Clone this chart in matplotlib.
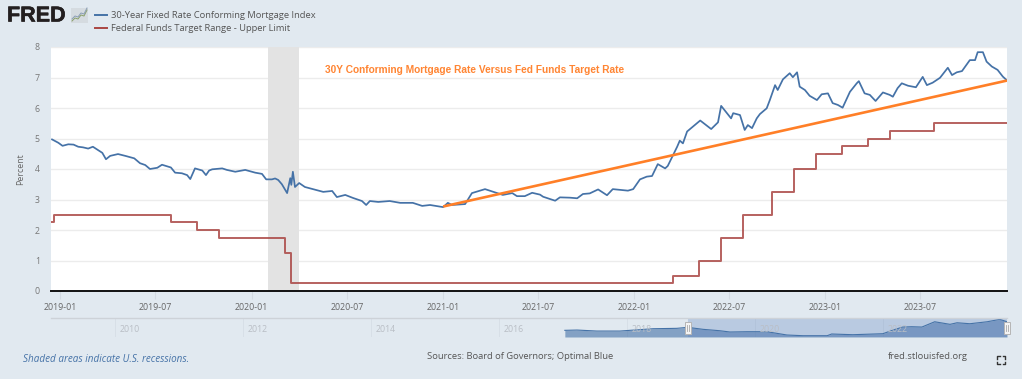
"""
FRED chart: 30Y conforming mortgage rate versus fed funds target rate.
"""

import matplotlib

matplotlib.use("Agg")

import matplotlib.dates as mdates
import matplotlib.patheffects as pe
import matplotlib.pyplot as plt
import pandas as pd
from matplotlib.patches import Rectangle

# days since 2019-01-01
MORTGAGE_DAYS = [
    -16, -4, 4, 15, 25, 34, 43, 53, 62, 72,
    80, 87, 95, 110, 124, 141, 152, 162, 171, 185,
    194, 211, 219, 232, 242, 248, 257, 271, 278, 284,
    290, 309, 318, 334, 353, 372, 385, 393, 404, 410,
    416, 423, 433, 439, 441, 444, 448, 456, 467, 482,
    502, 519, 528, 544, 559, 576, 584, 591, 607, 629,
    649, 673, 691, 706, 731, 740, 748, 773, 786, 811,
    834, 845, 863, 872, 887, 901, 916, 922, 945, 954,
    973, 987, 998, 1011, 1027, 1044, 1055, 1084, 1094, 1107,
    1120, 1130, 1141, 1155, 1160, 1178, 1183, 1189, 1197, 1208,
    1222, 1243, 1256, 1262, 1273, 1281, 1285, 1298, 1307, 1313,
    1321, 1330, 1336, 1349, 1355, 1365, 1370, 1380, 1393, 1399,
    1407, 1412, 1422, 1431, 1445, 1454, 1466, 1475, 1485, 1494,
    1508, 1521, 1525, 1536, 1546, 1557, 1571, 1584, 1590, 1599,
    1607, 1619, 1634, 1647, 1655, 1666, 1680, 1695, 1703, 1712,
    1722, 1737, 1747, 1752, 1762, 1769, 1779, 1790, 1800, 1807,
]
MORTGAGE_RATE = [
    4.97, 4.86, 4.76, 4.81, 4.80, 4.73, 4.71, 4.67, 4.73, 4.62,
    4.53, 4.32, 4.43, 4.49, 4.43, 4.35, 4.19, 4.13, 4.00, 4.04,
    4.14, 4.05, 3.88, 3.86, 3.80, 3.67, 4.02, 3.95, 3.80, 3.95,
    3.99, 4.02, 3.97, 3.91, 3.97, 3.88, 3.84, 3.66, 3.66, 3.69,
    3.64, 3.50, 3.21, 3.70, 3.48, 3.91, 3.41, 3.54, 3.41, 3.34,
    3.25, 3.28, 3.08, 3.15, 3.05, 2.95, 2.82, 2.95, 2.92, 2.95,
    2.89, 2.89, 2.79, 2.82, 2.75, 2.89, 2.82, 2.85, 3.21, 3.34,
    3.21, 3.15, 3.21, 3.11, 3.11, 3.22, 3.16, 3.09, 2.96, 3.07,
    3.06, 3.04, 3.18, 3.20, 3.33, 3.14, 3.34, 3.29, 3.34, 3.66,
    3.75, 3.77, 4.16, 4.02, 4.10, 4.73, 4.93, 4.84, 5.23, 5.39,
    5.59, 5.31, 5.53, 6.07, 5.83, 5.66, 5.83, 5.77, 5.28, 5.44,
    5.34, 5.66, 5.80, 5.99, 6.26, 6.75, 6.59, 6.94, 7.14, 7.01,
    7.17, 6.70, 6.59, 6.40, 6.26, 6.45, 6.48, 6.16, 6.10, 6.01,
    6.53, 6.81, 6.88, 6.48, 6.43, 6.23, 6.51, 6.43, 6.37, 6.65,
    6.81, 6.73, 6.68, 7.02, 6.75, 6.83, 6.99, 7.32, 7.08, 7.17,
    7.21, 7.57, 7.57, 7.83, 7.83, 7.52, 7.36, 7.25, 7.03, 6.92,
]

FED_DATES = [
    "2018-12-14", "2018-12-20", "2019-08-01", "2019-09-19", "2019-10-31",
    "2020-03-04", "2020-03-16", "2022-03-17", "2022-05-05", "2022-06-16",
    "2022-07-28", "2022-09-22", "2022-11-03", "2022-12-15", "2023-02-02",
    "2023-03-23", "2023-05-04", "2023-07-27", "2023-12-14",
]
FED_UPPER = [
    2.25, 2.50, 2.25, 2.00, 1.75, 1.25, 0.25, 0.50, 1.00, 1.75,
    2.50, 3.25, 4.00, 4.50, 4.75, 5.00, 5.25, 5.50, 5.50,
]

TREND_DATES = ["2021-01-01", "2023-12-14"]
TREND_RATE = [2.77, 6.90]

RECESSION = ["2020-02-01", "2020-04-01"]

NAV_YEARS = [
    2017.03, 2017.22, 2017.53, 2017.89, 2018.41, 2018.78, 2018.95, 2019.19, 2019.45, 2019.61,
    2019.88, 2020.19, 2020.50, 2020.75, 2021.13, 2021.20, 2021.53, 2022.00, 2022.16, 2022.31,
    2022.45, 2022.61, 2022.81, 2023.05, 2023.16, 2023.36, 2023.63, 2023.83, 2023.94,
]
NAV_RATE = [
    4.42, 4.51, 4.20, 4.20, 4.92, 5.04, 5.35, 4.73, 4.30, 3.90,
    3.99, 3.99, 2.97, 2.75, 2.75, 3.28, 3.06, 3.37, 4.51, 5.44,
    5.54, 5.44, 7.08, 6.28, 6.77, 6.47, 7.08, 7.83, 7.08,
]
NAV_TICKS = [2010, 2012, 2014, 2016, 2018, 2020, 2022]

W, H = 1022, 379
BG = "#e1e9f0"
BLUE = "#4572a7"
RED = "#aa4643"
ORANGE = "#ff7f27"

plt.rcParams["font.family"] = ["Open Sans", "DejaVu Sans"]


def px_axes(fig, left, top, right, bottom, **kwargs):
    return fig.add_axes(
        [left / W, 1 - bottom / H, (right - left) / W, (bottom - top) / H], **kwargs
    )


def draw_main(fig):
    ax = px_axes(fig, 51, 47, 1007, 291)
    ax.set_facecolor("white")
    dates = pd.Timestamp("2019-01-01") + pd.to_timedelta(MORTGAGE_DAYS, unit="D")
    ax.axvspan(pd.Timestamp(RECESSION[0]), pd.Timestamp(RECESSION[1]), color="#e3e3e3", lw=0, zorder=1.5)
    ax.plot(dates, MORTGAGE_RATE, color=BLUE, lw=1.25, zorder=3)
    ax.step(pd.to_datetime(FED_DATES), FED_UPPER, where="post", color=RED, lw=1.4, alpha=0.85, zorder=3)
    ax.plot(pd.to_datetime(TREND_DATES), TREND_RATE, color=ORANGE, lw=1.9, zorder=4, solid_capstyle="butt")
    ax.set_xlim(pd.Timestamp("2018-12-14"), pd.Timestamp("2023-12-14"))
    ax.set_ylim(0, 8)
    ax.set_yticks(range(0, 9))
    ax.yaxis.grid(True, color="#ececec", lw=1, zorder=1)
    ax.set_axisbelow(True)
    ax.xaxis.set_major_locator(mdates.MonthLocator(bymonth=(1, 7)))
    ax.xaxis.set_major_formatter(mdates.DateFormatter("%Y-%m"))
    ax.tick_params(axis="x", length=6, color="#d3dae2", labelcolor="#666666", labelsize=6.3, pad=2.5, width=0.8)
    ax.tick_params(axis="y", length=0, labelcolor="#777777", labelsize=6.3, pad=8)
    for side in ("top", "right", "left"):
        ax.spines[side].set_visible(False)
    ax.spines["bottom"].set_color("#111111")
    ax.spines["bottom"].set_linewidth(1.4)
    ax.set_ylabel("Percent", color="#666666", fontsize=6.3, labelpad=7)
    ax.text(
        0.443, 0.905, "30Y Conforming Mortgage Rate Versus Fed Funds Target Rate",
        transform=ax.transAxes, ha="center", va="center", color="#ff8533",
        fontsize=7.3, fontweight="bold", family=["Liberation Sans"], zorder=5,
    )
    return ax


def draw_navigator(fig):
    nav = px_axes(fig, 51, 318, 1007, 337)
    nav.patch.set_alpha(0)
    nav.set_xlim(2009, 2023.94)
    nav.set_ylim(2.35, 8.25)
    nav.fill_between(NAV_YEARS, NAV_RATE, 2.35, color="#4572a7", alpha=0.6, lw=0)
    nav.plot(NAV_YEARS, NAV_RATE, color=BLUE, lw=0.8)
    nav.axvspan(2018.95, 2023.94, color="#5f83bf", alpha=0.3, lw=0)
    nav.set_xticks(NAV_TICKS)
    nav.set_xticklabels([])
    nav.set_yticks([])
    nav.tick_params(axis="x", length=0)
    nav.xaxis.grid(True, color="#d6dee6", lw=0.6)
    nav.set_axisbelow(True)
    for side in ("left", "right", "bottom"):
        nav.spines[side].set_visible(False)
    nav.spines["top"].set_color("#cdd2d8")
    nav.spines["top"].set_linewidth(1)
    for year in NAV_TICKS:
        nav.annotate(
            str(year), (year, 0), xycoords=("data", "axes fraction"), xytext=(10.5, 5.5),
            textcoords="offset points", ha="center", va="center", color="#b9bec5", fontsize=6.3,
        )


def draw_overlay(fig):
    ov = fig.add_axes([0, 0, 1, 1])
    ov.set_xlim(0, W)
    ov.set_ylim(H, 0)
    ov.axis("off")
    ov.patch.set_alpha(0)

    # logo
    ov.text(7, 16, "FRED", ha="left", va="center", fontsize=15.5, fontweight="bold",
            family=["Liberation Sans"], color="#231f20",
            path_effects=[pe.withStroke(linewidth=0.4, foreground="#231f20")])
    ov.add_patch(Rectangle((71, 8), 17, 15, color="#d5dbe0", lw=0))
    ov.plot([72, 75, 78, 81, 84, 87], [21, 18, 19, 15, 16, 10], color="#8aa06a", lw=0.7)
    ov.plot([72, 75, 78, 81, 84, 87], [19, 16, 17, 13, 14, 8], color="#8a9db5", lw=0.7)

    # legend
    ov.plot([95, 107], [15, 15], color=BLUE, lw=1.4)
    ov.plot([95, 107], [28, 28], color=RED, lw=1.4)
    ov.text(111, 15.5, "30-Year Fixed Rate Conforming Mortgage Index", va="center", color="#555555", fontsize=6.72)
    ov.text(111, 28.5, "Federal Funds Target Range - Upper Limit", va="center", color="#555555", fontsize=6.72)

    # navigator handles
    for x in (688, 1007):
        ov.add_patch(Rectangle((x - 3, 322), 6, 12, facecolor="#f4f4f4", edgecolor="#b5b5b5", lw=0.7, zorder=5))
        ov.plot([x - 1, x - 1], [325, 331], color="#a8a8a8", lw=0.6, zorder=6)
        ov.plot([x + 1, x + 1], [325, 331], color="#a8a8a8", lw=0.6, zorder=6)

    # footer
    ov.text(23, 360, "Shaded areas indicate U.S. recessions.", va="center", color="#4572a7",
            fontsize=7.1, style="italic")
    ov.text(427, 356.5, "Sources: Board of Governors; Optimal Blue", va="center", color="#555555", fontsize=6.75)
    ov.text(888, 356.5, "fred.stlouisfed.org", va="center", color="#555555", fontsize=6.75)

    # fullscreen icon
    x0, x1, y0, y1 = 997, 1005, 356, 364
    for cx, cy, dx, dy in ((x0, y0, 1, 1), (x1, y0, -1, 1), (x0, y1, 1, -1), (x1, y1, -1, -1)):
        ov.plot([cx + 2.5 * dx, cx, cx], [cy, cy, cy + 2.5 * dy], color="#333333", lw=1)


def main():
    fig = plt.figure(figsize=(W / 100, H / 100), dpi=100, facecolor=BG)
    draw_main(fig)
    draw_navigator(fig)
    draw_overlay(fig)
    fig.savefig("out.png", dpi=100, facecolor=BG)
    plt.close(fig)


if __name__ == "__main__":
    main()
